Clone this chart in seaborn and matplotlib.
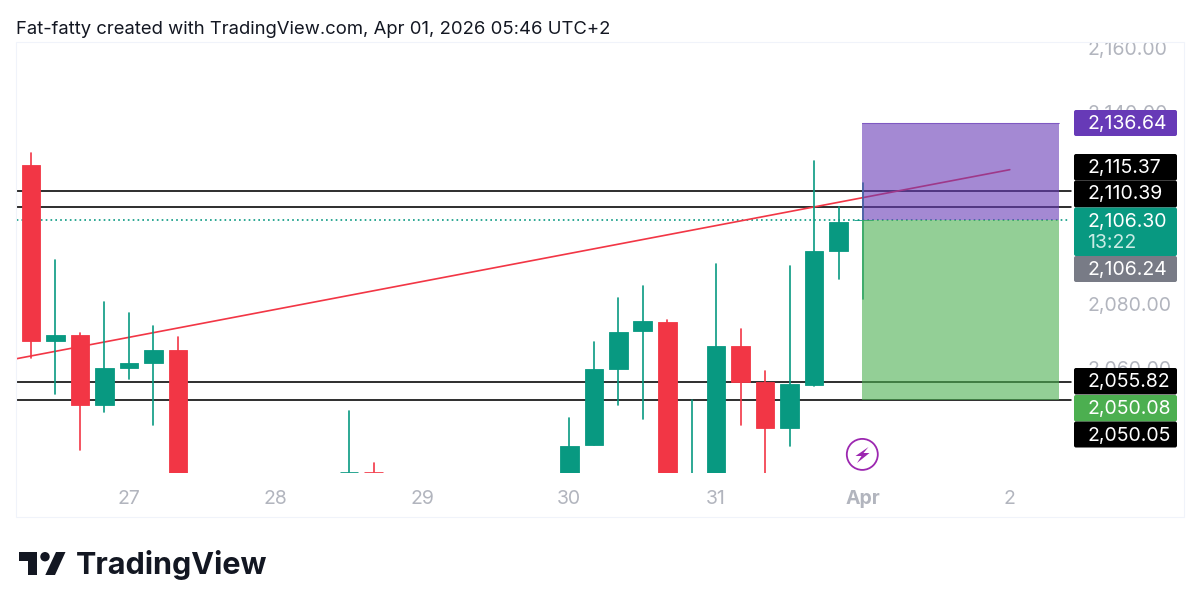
import matplotlib
matplotlib.use("Agg")
import matplotlib.pyplot as plt
from matplotlib.patches import Rectangle, FancyBboxPatch, Circle, Polygon
from matplotlib.transforms import Bbox
import seaborn as sns
import pandas as pd

# ---- data -------------------------------------------------------------
candle_index = [0, 1, 2, 3, 4, 5, 6, 13, 14, 22, 23, 24, 25, 26, 27, 28, 29, 30, 31, 32, 33, 34]
open_prices = [2123.7, 2068.6, 2070.5, 2048.7, 2060.1, 2061.6, 2065.8, 2027.5, 2027.5, 2024.0, 2036.2,
               2059.8, 2071.6, 2074.6, 2024.0, 2024.0, 2066.9, 2055.8, 2041.4, 2054.9, 2096.7, 2106.24]
close_prices = [2068.6, 2070.5, 2048.7, 2060.1, 2061.6, 2065.9, 2024.0, 2027.5, 2027.5, 2035.9, 2059.8,
                2071.4, 2074.7, 2024.0, 2024.0, 2066.9, 2055.8, 2041.4, 2055.1, 2096.7, 2105.7, 2106.30]
high_prices = [2127.2, 2093.8, 2071.2, 2080.6, 2077.3, 2073.4, 2069.7, 2046.65, 2030.4, 2044.5, 2068.4,
               2081.9, 2085.6, 2075.1, 2050.1, 2092.5, 2072.4, 2059.15, 2092.0, 2124.7, 2110.5, 2117.8]
low_prices = [2063.2, 2052.0, 2034.5, 2046.4, 2056.7, 2042.4, 2024.0, 2027.5, 2027.5, 2024.0, 2036.2,
              2048.6, 2044.15, 2024.0, 2024.0, 2024.0, 2042.4, 2024.0, 2035.8, 2054.4, 2087.8, 2081.65]
candle_is_up = [False, True, False, True, True, True, False, True, False, True, True,
                True, True, False, True, True, False, False, True, True, True, True]

level_prices = [2115.37, 2110.39, 2055.82, 2050.05]
last_price = 2106.30
position_top = 2136.64
position_entry = 2106.24
position_bottom = 2050.08
position_span = [33.96, 42.01]
trend_x = [-0.61, 40.0]
trend_y = [2063.0, 2122.1]

price_ticks = [2160, 2140, 2080, 2060]
date_positions = [4, 10, 16, 22, 28, 34, 40]
date_labels = ["27", "28", "29", "30", "31", "Apr", "2"]
tag_texts = ["2,136.64", "2,115.37", "2,110.39", "2,106.30", "2,106.24", "2,055.82", "2,050.08", "2,050.05"]
countdown = "13:22"
title_text = "Fat-fatty created with TradingView.com, Apr 01, 2026 05:46 UTC+2"
brand_text = "TradingView"

# ---- styles -------------------------------------------------------------
UP, DOWN = "#089981", "#f23645"
GREY = "#b2b5be"
FONT = "Inter"
sns.set_theme(style="white")
plt.rcParams["font.family"] = [FONT, "DejaVu Sans"]

W, H = 1200, 611
fig = plt.figure(figsize=(W / 100, H / 100), dpi=100, facecolor="white")
px_left, px_right, px_top, px_bottom = 16, 1073, 42, 473
ax = fig.add_axes([px_left / W, 1 - px_bottom / H, (px_right - px_left) / W, (px_bottom - px_top) / H])
ax.set_facecolor("none")

df = pd.DataFrame({"i": candle_index, "o": open_prices, "c": close_prices,
                   "h": high_prices, "l": low_prices, "up": candle_is_up})
df["bottom"] = df[["o", "c"]].min(axis=1)
df["height"] = (df["c"] - df["o"]).abs()

# levels and trend line sit below the candles
for level in level_prices:
    sns.lineplot(x=[-1, 42.5], y=[level, level], color="black", lw=1.15, ax=ax, zorder=2)
sns.lineplot(x=[-1, 42.4], y=[last_price, last_price], color=UP, lw=1.2, ax=ax, zorder=2,
             linestyle=(0, (1, 1.9)))
sns.lineplot(x=trend_x, y=trend_y, color=DOWN, lw=1.2, ax=ax, zorder=2)

# candles
for is_up, color in [(True, UP), (False, DOWN)]:
    sub = df[df["up"] == is_up]
    wicks = pd.concat([sub[["i", "h"]].rename(columns={"h": "p"}), sub[["i", "l"]].rename(columns={"l": "p"})])
    sns.lineplot(data=wicks, x="i", y="p", units="i", estimator=None, color=color, lw=1.2, ax=ax, zorder=3)
    sns.barplot(data=sub, x="i", y="height", bottom=sub["bottom"].to_numpy(), native_scale=True, width=0.76,
                color=color, saturation=1, edgecolor=color, linewidth=0.6, errorbar=None, ax=ax, zorder=3)

# position tool shading
ax.add_patch(Rectangle((position_span[0], position_entry), position_span[1] - position_span[0],
                       position_top - position_entry, color="#673ab7", alpha=0.6, lw=0, zorder=4))
ax.add_patch(Rectangle((position_span[0], position_bottom), position_span[1] - position_span[0],
                       position_entry - position_bottom, color="#4caf50", alpha=0.6, lw=0, zorder=4))
sns.lineplot(x=position_span, y=[position_top, position_top], color="#673ab7", lw=0.8, alpha=0.6, ax=ax, zorder=4)

ax.set_xlim((px_left - 31) / 24.47, (px_right - 31) / 24.47)
ax.set_ylim(2160 - (px_bottom - 48.4) / 3.2, 2160 - (px_top - 48.4) / 3.2)
ax.set_xlabel("")
ax.set_ylabel("")
ax.yaxis.tick_right()
ax.set_yticks(price_ticks, [f"{p:,.2f}" for p in price_ticks])
ax.set_xticks(date_positions, date_labels)
ax.tick_params(axis="y", length=0, pad=10.5, labelsize=14, labelcolor=GREY)
ax.tick_params(axis="x", length=0, pad=12, labelsize=14, labelcolor=GREY)
for lab in ax.get_xticklabels():
    if lab.get_text() == "Apr":
        lab.set_fontweight("bold")
for lab in ax.get_yticklabels():
    lab.set_clip_on(True)
    lab.set_clip_box(Bbox([[0, 0], [W, H - px_top]]))
for s in ax.spines.values():
    s.set_visible(False)

# ---- overlay in pixel coordinates --------------------------------------
ov = fig.add_axes([0, 0, 1, 1], zorder=5)
ov.set_xlim(0, W)
ov.set_ylim(H, 0)
ov.axis("off")
ov.patch.set_alpha(0)

ov.add_patch(Rectangle((16, 42), 1168, 475, fill=False, ec="#f0f3fa", lw=0.8))
ov.text(16, 29.5, title_text, fontsize=13.3, color="#131722", va="center", ha="left")

tag_boxes = [(110, 136), (154, 180.5), (180.5, 207.5), (207.5, 256), (256, 282),
             (368, 394.5), (395, 421.5), (421.5, 447.5)]
tag_colors = ["#673ab7", "black", "black", UP, "#787b86", "black", "#4caf50", "black"]
for (top, bottom), color, text in zip(tag_boxes, tag_colors, tag_texts):
    ov.add_patch(FancyBboxPatch((1074, top), 103, bottom - top, boxstyle="round,pad=0,rounding_size=2",
                                fc=color, ec="none"))
    ov.text(1087.5, top + 14, text, fontsize=14, color="white", va="center", ha="left")
ov.text(1087.5, 242.5, countdown, fontsize=14, color="#c9ece5", va="center", ha="left")

# lightning icon
ov.add_patch(Circle((862.3, 454.4), 15.5, fill=False, ec="#9c27b0", lw=1.3))
ov.add_patch(Polygon([(868.5, 447), (855.5, 456), (861.5, 456), (857, 463), (869.5, 453), (863.5, 453)],
                     closed=True, fc="#9c27b0", ec="none"))

# brand
ov.add_patch(Polygon([(19, 552), (37.3, 552), (37.3, 575), (28, 575), (28, 561.3), (19, 561.3)], closed=True, fc="#131722", ec="none"))
ov.add_patch(Circle((45, 556.7), 4.7, fc="#131722", ec="none"))
ov.add_patch(Polygon([(56, 552), (65.5, 552), (55, 575), (45.3, 575)], closed=True, fc="#131722", ec="none"))
ov.text(76, 574.3, brand_text, fontsize=22, fontweight="bold", color="#131722", va="baseline", ha="left")

fig.savefig("out.png", dpi=100, facecolor="white")
